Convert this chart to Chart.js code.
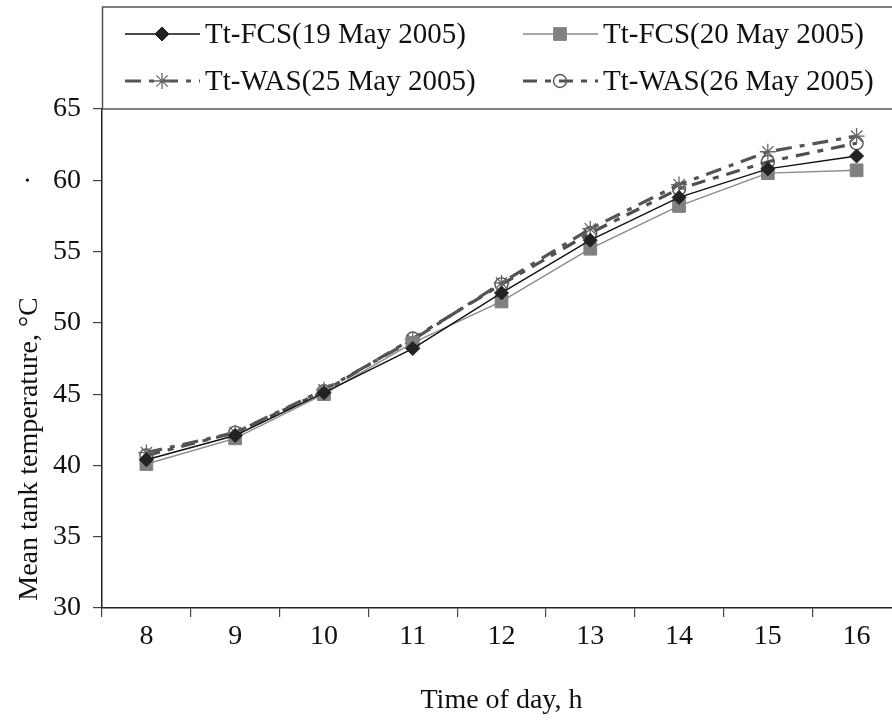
<!DOCTYPE html>
<html>
<head>
<meta charset="utf-8">
<script src="https://cdn.jsdelivr.net/npm/chart.js@4"></script>
<style>
html, body { margin: 0; padding: 0; background: #fff; overflow: hidden; }
</style>
</head>
<body>
<canvas id="chartTemp" width="911" height="723"></canvas>
<script>
// hours of the day and mean tank temperature (°C)
const hours = ['8', '9', '10', '11', '12', '13', '14', '15', '16'];
const fcs19 = [40.4, 42.1, 45.1, 48.2, 52.1, 55.8, 58.8, 60.8, 61.7];
const fcs20 = [40.1, 41.9, 45.0, 48.6, 51.5, 55.2, 58.2, 60.5, 60.7];
const was25 = [40.9, 42.3, 45.3, 48.8, 52.8, 56.6, 59.7, 62.0, 63.1];
const was26 = [40.7, 42.3, 45.2, 48.9, 52.7, 56.3, 59.4, 61.3, 62.6];
const yMin = 30, yMax = 65, yStep = 5;

const serif = 'Liberation Serif';

// boxed legend sitting on top of the plot, 2 x 2
const legendBox = {
  id: 'legendBox',
  afterDraw(chart) {
    const ctx = chart.ctx;
    const area = chart.chartArea;
    ctx.save();
    ctx.strokeStyle = '#555';
    ctx.lineWidth = 1.5;
    ctx.setLineDash([]);
    ctx.strokeRect(area.left + 0.5, 7, 1000, area.top - 7);

    const cols = [125, 523];
    const rows = [34, 81];
    chart.data.datasets.forEach((ds, i) => {
      const x0 = cols[i % 2];
      const y = rows[Math.floor(i / 2)];
      ctx.strokeStyle = ds.borderColor;
      ctx.lineWidth = ds.borderWidth;
      ctx.setLineDash(ds.borderDash || []);
      ctx.beginPath();
      ctx.moveTo(x0, y);
      ctx.lineTo(x0 + 75, y);
      ctx.stroke();
      ctx.setLineDash([]);
      ctx.fillStyle = ds.pointBackgroundColor;
      ctx.strokeStyle = ds.pointBorderColor;
      ctx.lineWidth = ds.pointBorderWidth;
      Chart.helpers.drawPoint(ctx, {
        pointStyle: ds.pointStyle,
        radius: ds.pointRadius,
        borderWidth: ds.pointBorderWidth,
        rotation: 0
      }, x0 + 37, y);
      ctx.fillStyle = '#111';
      ctx.font = '29px "' + serif + '"';
      ctx.textAlign = 'left';
      ctx.textBaseline = 'middle';
      ctx.fillText(ds.label, x0 + 80, y + 1);
    });
    ctx.restore();
  }
};

// rotated y title, placed like the original
const yTitle = {
  id: 'yTitle',
  afterDraw(chart) {
    const ctx = chart.ctx;
    ctx.save();
    ctx.fillStyle = '#111';
    ctx.font = '28px "' + serif + '"';
    ctx.textAlign = 'center';
    ctx.textBaseline = 'middle';
    ctx.translate(30, 449);
    ctx.rotate(-Math.PI / 2);
    ctx.fillText('Mean tank temperature, °C', 0, 0);
    ctx.fillText('·', 269, 0);
    ctx.restore();
  }
};

const ctx = document.getElementById('chartTemp').getContext('2d');
new Chart(ctx, {
  type: 'line',
  data: {
    labels: hours,
    datasets: [
      {
        label: 'Tt-FCS(19 May 2005)',
        data: fcs19,
        borderColor: '#111',
        borderWidth: 1.4,
        pointStyle: 'rectRot',
        pointRadius: 7,
        pointBackgroundColor: '#222',
        pointBorderColor: '#222',
        pointBorderWidth: 1,
        tension: 0
      },
      {
        label: 'Tt-FCS(20 May 2005)',
        data: fcs20,
        borderColor: '#8a8a8a',
        borderWidth: 1.4,
        pointStyle: 'rect',
        pointRadius: 9,
        pointBackgroundColor: '#808080',
        pointBorderColor: '#808080',
        pointBorderWidth: 1,
        tension: 0
      },
      {
        label: 'Tt-WAS(25 May 2005)',
        data: was25,
        borderColor: '#555',
        borderWidth: 3.2,
        borderDash: [16, 8, 5, 8],
        pointStyle: 'star',
        pointRadius: 8,
        pointBackgroundColor: 'rgba(0,0,0,0)',
        pointBorderColor: '#666',
        pointBorderWidth: 1.3,
        tension: 0
      },
      {
        label: 'Tt-WAS(26 May 2005)',
        data: was26,
        borderColor: '#505050',
        borderWidth: 3.2,
        borderDash: [14, 8, 6, 8],
        pointStyle: 'circle',
        pointRadius: 6.5,
        pointBackgroundColor: 'rgba(255,255,255,0)',
        pointBorderColor: '#555',
        pointBorderWidth: 1.4,
        tension: 0
      }
    ]
  },
  options: {
    responsive: false,
    animation: false,
    layout: { padding: { top: 109, right: 0, left: 0, bottom: 0 } },
    scales: {
      x: {
        type: 'category',
        offset: true,
        border: { color: '#222', width: 1.5 },
        grid: {
          offset: true,
          drawOnChartArea: false,
          tickLength: 9,
          color: '#444',
          lineWidth: 1.2
        },
        ticks: {
          color: '#111',
          padding: 3,
          maxRotation: 0,
          font: { family: serif, size: 28 }
        },
        title: {
          display: true,
          text: 'Time of day, h',
          color: '#111',
          font: { family: serif, size: 28 },
          padding: { top: 0, bottom: 6 }
        },
        afterFit(scale) { scale.height = 115; }
      },
      y: {
        min: yMin,
        max: yMax,
        border: { color: '#222', width: 1.5 },
        grid: {
          drawOnChartArea: false,
          tickLength: 9,
          color: '#444',
          lineWidth: 1.2
        },
        ticks: {
          stepSize: yStep,
          color: '#111',
          padding: 12,
          font: { family: serif, size: 28 }
        },
        afterFit(scale) { scale.width = 102; }
      }
    },
    plugins: {
      legend: { display: false },
      tooltip: { enabled: false }
    }
  },
  plugins: [legendBox, yTitle]
});
</script>
</body>
</html>
